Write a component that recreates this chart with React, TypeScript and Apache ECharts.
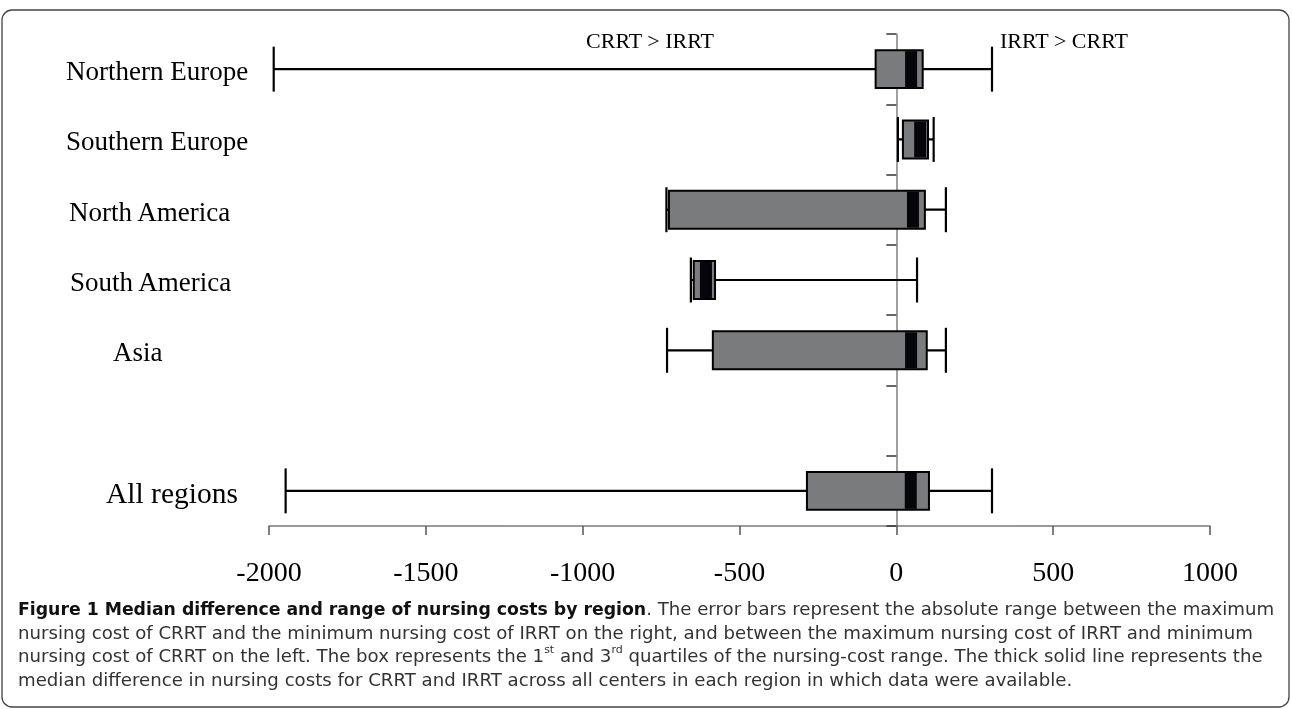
import React, { useEffect, useRef } from "react";
import * as echarts from "echarts";

const categories = ["Northern Europe", "Southern Europe", "North America", "South America", "Asia", "", "All regions"];
const whiskerLow = [-1985, 5, -733, -655, -731, null, -1947];
const quartile1 = [-66, 21, -725, -646, -585, null, -285];
const medianDiff = [47, 76, 53, -607, 47, null, 46];
const quartile3 = [84, 101, 91, -578, 97, null, 104];
const whiskerHigh = [305, 119, 158, 66, 158, null, 305];

const xMin = -2000;
const xMax = 1000;
const xStep = 500;

const leftNote = "CRRT > IRRT";
const rightNote = "IRRT > CRRT";

const captionBold = "Figure 1 Median difference and range of nursing costs by region";
const captionLines = [
  ". The error bars represent the absolute range between the maximum",
  "nursing cost of CRRT and the minimum nursing cost of IRRT on the right, and between the maximum nursing cost of IRRT and minimum",
  "nursing cost of CRRT on the left. The box represents the 1",
  " and 3",
  " quartiles of the nursing-cost range. The thick solid line represents the",
  "median difference in nursing costs for CRRT and IRRT across all centers in each region in which data were available.",
];

// label layout (style only)
const labelPadLeft = [0, 0, 3, 4, 47, 0, 40];
const labelSize = [27, 27, 27, 27, 27, 27, 29.5];

export default function App() {
  const ref = useRef<HTMLDivElement>(null);
  useEffect(() => {
    if (!ref.current) return;
    const chart = echarts.init(ref.current, null, { renderer: "svg" });

    const data = categories
      .map((c, i) => [i, whiskerLow[i], quartile1[i], medianDiff[i], quartile3[i], whiskerHigh[i]])
      .filter((d) => d[1] !== null);

    const rich: any = {};
    categories.forEach((_, i) => {
      rich["c" + i] = {
        fontFamily: "Liberation Serif, Times New Roman, serif",
        fontSize: labelSize[i],
        color: "#000",
        padding: [4, 0, 0, labelPadLeft[i]],
      };
    });

    const serif = "Liberation Serif, Times New Roman, serif";
    const sans = "DejaVu Sans, sans-serif";
    const capSize = 18.15;
    const capBoldSize = 17.3;
    const capLH = 23.5;

    const captionText =
      "{b|" + captionBold + "}{n|" + captionLines[0] + "}\n" +
      "{n|" + captionLines[1] + "}\n" +
      "{n|" + captionLines[2] + "}{s|st}{n|" + captionLines[3] + "}{s|rd}{n|" + captionLines[4] + "}\n" +
      "{n|" + captionLines[5] + "}";

    chart.setOption({
      animation: false,
      grid: { left: 269, right: 82, top: 34, bottom: 183 },
      xAxis: {
        type: "value",
        min: xMin,
        max: xMax,
        interval: xStep,
        splitLine: { show: false },
        axisLine: { show: true, lineStyle: { color: "#7a7a7a", width: 1.5 } },
        axisTick: { show: true, length: 9, lineStyle: { color: "#555", width: 1.5 } },
        axisLabel: {
          fontFamily: serif,
          fontSize: 28,
          color: "#000",
          margin: 31,
          formatter: (v: number) => String(v),
        },
      },
      yAxis: [
        {
          type: "category",
          data: categories,
          inverse: true,
          position: "left",
          axisLine: { show: true, onZero: true, lineStyle: { color: "#808080", width: 1.5 } },
          axisTick: { show: true, length: 10, lineStyle: { color: "#333", width: 1.5 } },
          axisLabel: { show: false },
          splitLine: { show: false },
        },
        {
          type: "category",
          data: categories,
          inverse: true,
          position: "left",
          axisLine: { show: false, onZero: false },
          axisTick: { show: false },
          splitLine: { show: false },
          axisLabel: {
            margin: 203,
            align: "left",
            formatter: (v: string, i: number) => (v ? "{c" + i + "|" + v + "}" : ""),
            rich,
          },
        },
      ],
      series: [
        {
          type: "custom",
          yAxisIndex: 0,
          encode: { x: [1, 2, 3, 4, 5], y: 0 },
          data,
          renderItem: (params: any, api: any) => {
            const idx = api.value(0);
            const lo = api.coord([api.value(1), idx]);
            const q1 = api.coord([api.value(2), idx]);
            const med = api.coord([api.value(3), idx]);
            const q3 = api.coord([api.value(4), idx]);
            const hi = api.coord([api.value(5), idx]);
            const band = api.size([0, 1])[1];
            const bh = band * 0.54;
            const ch = band * 0.64;
            const y = lo[1];
            const ls = { stroke: "#000", lineWidth: 2.2 };
            return {
              type: "group",
              children: [
                { type: "line", shape: { x1: lo[0], y1: y, x2: hi[0], y2: y }, style: ls },
                { type: "line", shape: { x1: lo[0], y1: y - ch / 2, x2: lo[0], y2: y + ch / 2 }, style: ls },
                { type: "line", shape: { x1: hi[0], y1: y - ch / 2, x2: hi[0], y2: y + ch / 2 }, style: ls },
                {
                  type: "rect",
                  shape: { x: q1[0], y: y - bh / 2, width: q3[0] - q1[0], height: bh },
                  style: { fill: "#7a7b7d", stroke: "#000", lineWidth: 2 },
                },
                {
                  type: "rect",
                  shape: { x: med[0] - 6, y: y - bh / 2 + 1, width: 12, height: bh - 2 },
                  style: { fill: "#05050a" },
                },
              ],
            };
          },
          z: 5,
        },
      ],
      graphic: [
        {
          type: "rect",
          shape: { x: 2, y: 10, width: 1287, height: 697, r: 10 },
          style: { fill: "none", stroke: "#444", lineWidth: 1.3 },
          z: -1,
          silent: true,
        },
        {
          type: "text",
          x: 650,
          y: 40,
          style: { text: leftNote, font: "22px " + serif, fill: "#000", align: "center", verticalAlign: "middle" },
        },
        {
          type: "text",
          x: 1000,
          y: 40,
          style: { text: rightNote, font: "22px " + serif, fill: "#000", align: "left", verticalAlign: "middle" },
        },
        {
          type: "text",
          x: 18,
          y: 597,
          style: {
            text: captionText,
            align: "left",
            verticalAlign: "top",
            rich: {
              b: { fontFamily: sans, fontWeight: "bold", fontSize: capBoldSize, lineHeight: capLH, fill: "#111", color: "#111" },
              n: { fontFamily: sans, fontSize: capSize, lineHeight: capLH, fill: "#333", color: "#333" },
              s: { fontFamily: sans, fontSize: 11, lineHeight: 18, verticalAlign: "top", fill: "#333", color: "#333" },
            },
          },
        },
      ],
    });
    return () => chart.dispose();
  }, []);
  return <div ref={ref} style={{ position: "fixed", left: 0, top: 0, width: 1292, height: 709 }} />;
}
